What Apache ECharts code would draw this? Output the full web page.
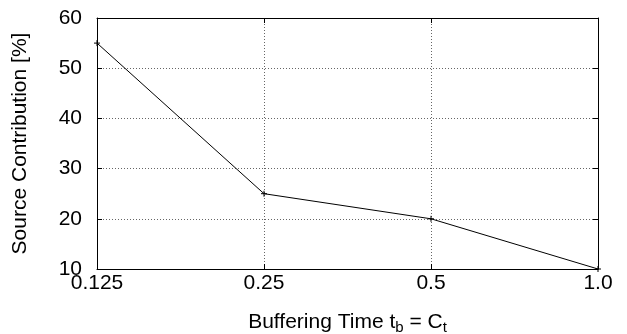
<!DOCTYPE html>
<html>
<head>
<meta charset="utf-8">
<script src="https://cdn.jsdelivr.net/npm/echarts@6/dist/echarts.min.js"></script>
<style>
  html, body { margin: 0; padding: 0; background: #fff; }
  #chart { width: 627px; height: 334px; }
</style>
</head>
<body>
<div id="chart"></div>
<script>
const bufferingTimes = ['0.125', '0.25', '0.5', '1.0']
const contribution = [55, 25, 20, 10]
const yTicks = { min: 10, max: 60, interval: 10 }

const font = 'Liberation Sans, Arial, Helvetica, sans-serif'
const plus = 'path://M5,0L5,10M0,5L10,5'

const chart = echarts.init(document.getElementById('chart'))

const tickStyle = { show: true, inside: true, length: 5, lineStyle: { color: '#000' } }
const lineStyle = { show: true, onZero: false, lineStyle: { color: '#000', width: 1 } }

chart.setOption({
  animation: false,
  grid: { left: 97, right: 29, top: 18, bottom: 65, outerBoundsMode: 'none' },
  xAxis: [{
    type: 'category',
    data: bufferingTimes,
    boundaryGap: false,
    axisLine: lineStyle,
    axisTick: { ...tickStyle, alignWithLabel: true },
    axisLabel: { color: '#000', fontFamily: font, fontSize: 21, margin: 4 },
    splitLine: { show: true, lineStyle: { color: '#666', type: [1, 2] } },
    name: '{a|Buffering Time t}{s|b}{a| = C}{s|t}',
    nameLocation: 'middle',
    nameGap: 40,
    nameTextStyle: {
      color: '#000',
      rich: {
        a: { fontFamily: font, fontSize: 21, color: '#000' },
        s: { fontFamily: font, fontSize: 15, color: '#000', padding: [11, 0, 0, 0] }
      }
    }
  }, {
    type: 'category',
    data: bufferingTimes,
    boundaryGap: false,
    position: 'top',
    axisLine: lineStyle,
    axisTick: { ...tickStyle, alignWithLabel: true },
    axisLabel: { show: false }
  }],
  yAxis: [{
    type: 'value',
    ...yTicks,
    axisLine: lineStyle,
    axisTick: tickStyle,
    axisLabel: { color: '#000', fontFamily: font, fontSize: 21, margin: 15 },
    splitLine: { show: true, lineStyle: { color: '#666', type: [1, 2] } },
    name: 'Source Contribution [%]',
    nameLocation: 'middle',
    nameGap: 66,
    nameTextStyle: { color: '#000', fontFamily: font, fontSize: 21 }
  }, {
    type: 'value',
    ...yTicks,
    position: 'right',
    axisLine: lineStyle,
    axisTick: tickStyle,
    axisLabel: { show: false },
    splitLine: { show: false }
  }],
  series: [{
    type: 'line',
    data: contribution,
    symbol: plus,
    symbolSize: 6,
    itemStyle: { color: 'none', borderColor: '#000', borderWidth: 1 },
    lineStyle: { color: '#000', width: 1 }
  }]
})
</script>
</body>
</html>
